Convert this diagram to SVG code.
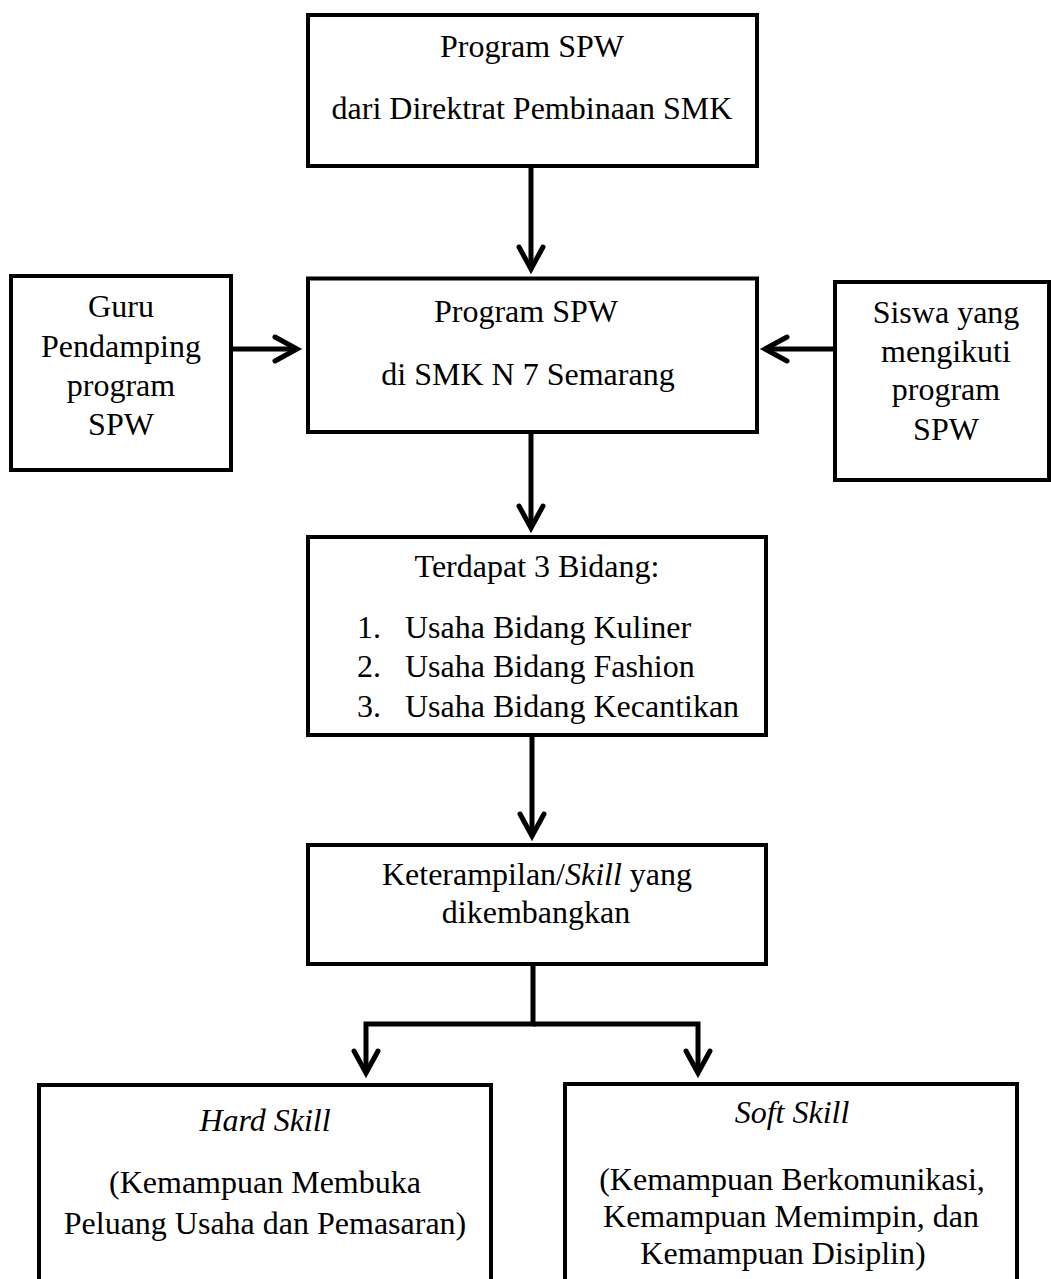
<svg xmlns="http://www.w3.org/2000/svg" width="1051" height="1279" viewBox="0 0 1051 1279">
<style>
.box{fill:#fff;stroke:#000;stroke-width:4}
.t{font-family:"Liberation Serif","Times New Roman",serif;font-size:32px;fill:#000}
.c{text-anchor:middle}
.i{font-style:italic}
.conn{fill:none;stroke:#000;stroke-width:5;stroke-linejoin:miter}
</style>
<defs>
<marker id="ah" markerUnits="userSpaceOnUse" orient="auto" refX="0" refY="0" markerWidth="40" markerHeight="40" viewBox="-30 -20 40 40" overflow="visible">
<path d="M -22 -12 L 0 0 L -22 12" fill="none" stroke="#000" stroke-width="5" stroke-linejoin="miter" stroke-linecap="round"/>
</marker>
</defs>
<rect width="1051" height="1279" fill="#fff"/>
<g id="connectors">
<path class="conn" d="M 531 166 V 269" marker-end="url(#ah)"/>
<path class="conn" d="M 531 432 V 528" marker-end="url(#ah)"/>
<path class="conn" d="M 231 349 H 297" marker-end="url(#ah)"/>
<path class="conn" d="M 835 349 H 765" marker-end="url(#ah)"/>
<path class="conn" d="M 532 735 V 836" marker-end="url(#ah)"/>
<path class="conn" d="M 533 964 V 1024 H 366 V 1073" marker-end="url(#ah)"/>
<path class="conn" d="M 533 1024 H 698 V 1073" marker-end="url(#ah)"/>
</g>
<g id="node-top">
<rect class="box" x="308" y="15" width="449" height="151"/>
<text class="t c" x="532" y="57">Program SPW</text>
<text class="t c" x="532" y="119">dari Direktrat Pembinaan SMK</text>
</g>
<g id="node-program">
<rect class="box" x="308" y="278.5" width="449" height="153.5"/>
<text class="t c" x="526" y="322">Program SPW</text>
<text class="t c" x="528" y="385">di SMK N 7 Semarang</text>
</g>
<g id="node-guru">
<rect class="box" x="11" y="276" width="220" height="194"/>
<text class="t c" x="121" y="317">Guru</text>
<text class="t c" x="121" y="357">Pendamping</text>
<text class="t c" x="121" y="396">program</text>
<text class="t c" x="121" y="435">SPW</text>
</g>
<g id="node-siswa">
<rect class="box" x="835" y="282" width="214" height="198"/>
<text class="t c" x="946" y="323">Siswa yang</text>
<text class="t c" x="946" y="362">mengikuti</text>
<text class="t c" x="946" y="400">program</text>
<text class="t c" x="946" y="440">SPW</text>
</g>
<g id="node-bidang">
<rect class="box" x="308" y="537" width="458" height="198"/>
<text class="t c" x="537" y="577">Terdapat 3 Bidang:</text>
<text class="t" x="357" y="638">1.</text>
<text class="t" x="405" y="638">Usaha Bidang Kuliner</text>
<text class="t" x="357" y="677">2.</text>
<text class="t" x="405" y="677">Usaha Bidang Fashion</text>
<text class="t" x="357" y="717">3.</text>
<text class="t" x="405" y="717">Usaha Bidang Kecantikan</text>
</g>
<g id="node-skill">
<rect class="box" x="308" y="845" width="458" height="119"/>
<text class="t c" x="537" y="885">Keterampilan/<tspan class="i">Skill</tspan> yang</text>
<text class="t c" x="536" y="923">dikembangkan</text>
</g>
<g id="node-hard">
<rect class="box" x="39" y="1085" width="452" height="220"/>
<text class="t c i" x="265" y="1131">Hard Skill</text>
<text class="t c" x="265" y="1193">(Kemampuan Membuka</text>
<text class="t c" x="265" y="1234">Peluang Usaha dan Pemasaran)</text>
</g>
<g id="node-soft">
<rect class="box" x="565" y="1084" width="452" height="220"/>
<text class="t c i" x="792" y="1123">Soft Skill</text>
<text class="t c" x="792" y="1190">(Kemampuan Berkomunikasi,</text>
<text class="t c" x="791" y="1227">Kemampuan Memimpin, dan</text>
<text class="t c" x="783" y="1264">Kemampuan Disiplin)</text>
</g>
</svg>
